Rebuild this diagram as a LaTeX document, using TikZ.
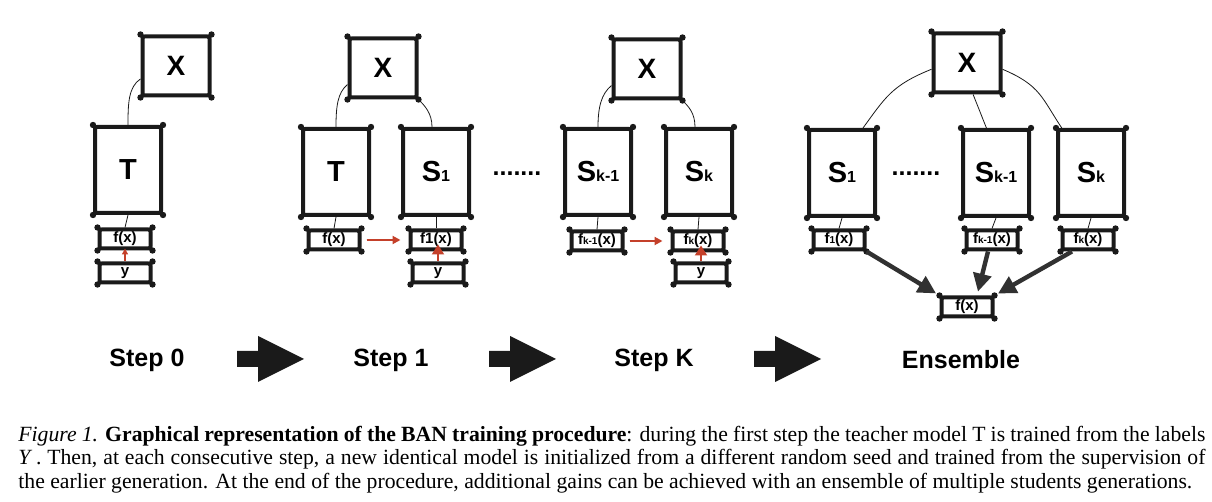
\documentclass[tikz,border=0pt]{standalone}
\usepackage{fontspec}
\setmainfont{Liberation Sans}
\newfontfamily\capfont{Liberation Serif}
\usepackage{xcolor}
\usetikzlibrary{arrows.meta}
\definecolor{redarrow}{HTML}{C4402A}
\definecolor{ink}{HTML}{1A1A1A}
\newcommand{\modidx}[1]{{\fontsize{8}{8}\selectfont #1}}
\newcommand{\outidx}[1]{{\fontsize{5}{5}\selectfont #1}}

\begin{document}
\begin{tikzpicture}[x=0.5pt, y=-0.5pt, every node/.style={font=\bfseries},
  sketch/.style={draw=ink, line width=2pt, rounded corners=1pt, line join=round, inner sep=0pt},
  input/.style={sketch, minimum width=33.5pt, minimum height=29.5pt, font=\fontsize{14}{14}\selectfont\bfseries},
  model/.style={sketch, minimum width=33pt, minimum height=43pt, font=\fontsize{14.5}{14.5}\selectfont\bfseries},
  output/.style={sketch, minimum width=25.5pt, minimum height=9.5pt, font=\fontsize{7.5}{8}\selectfont\bfseries},
  steplabel/.style={font=\fontsize{12.5}{12.5}\selectfont\bfseries},
  wire/.style={thin, draw=ink},
  redarr/.style={-{Triangle[length=4pt,width=4pt]}, line width=1pt, draw=redarrow, fill=redarrow},
  vote/.style={-{Triangle[length=9pt,width=9pt]}, line width=2.2pt, draw=ink!90, shorten >=2pt}]
\useasboundingbox (0,0) rectangle (1212,502);
% step 0
\node[input] (x0) at (176,66) {X};
\node[model] (t0) at (128,170) {T};
\node[output] (f0) at (125,239) {f(x)};
\node[output] (y0) at (125,273) {y};
% step 1
\node[input] (x1) at (383,68) {X};
\node[model] (t1) at (336,172) {T};
\node[model] (s1) at (436,172) {S\modidx{1}};
\node[output] (ft1) at (334,240) {f(x)};
\node[output] (f1) at (436,240) {f1(x)};
\node[output] (y1) at (438,273) {y};
\node[steplabel] (dots1) at (517,174) {.......};
% step K
\node[input] (xk) at (647,69) {X};
\node[model] (sk1) at (598,172) {S\modidx{k-1}};
\node[model] (sk) at (699,172) {S\modidx{k}};
\node[output] (fk1) at (597,241) {f\outidx{k-1}(x)};
\node[output] (fk) at (698,241) {f\outidx{k}(x)};
\node[output] (yk) at (701,273) {y};
% ensemble
\node[input] (xe) at (967,63) {X};
\node[model] (s1e) at (842,173) {S\modidx{1}};
\node[model] (sk1e) at (996,173) {S\modidx{k-1}};
\node[model] (ske) at (1091,173) {S\modidx{k}};
\node[output] (f1e) at (839,240) {f\outidx{1}(x)};
\node[output] (fk1e) at (992,240) {f\outidx{k-1}(x)};
\node[output] (fke) at (1088,240) {f\outidx{k}(x)};
\node[output] (fe) at (967,307) {f(x)};
\node[steplabel] (dotse) at (916,174) {.......};
% sketchy corners
\foreach \n in {x0,t0,f0,y0,x1,t1,s1,ft1,f1,y1,xk,sk1,sk,fk1,fk,yk,xe,s1e,sk1e,ske,f1e,fk1e,fke,fe}
  \foreach \c in {north west,north east,south west,south east}
    \fill[ink] (\n.\c) circle (1.6pt);
% wires
\draw[wire] (x0.200) .. controls +(-12,8) and +(0,-22) .. (t0.north);
\draw[wire] (x1.205) .. controls +(-10,8) and +(0,-20) .. (t1.north);
\draw[wire] (x1.south east) .. controls +(6,6) and +(0,-14) .. ([xshift=-2pt]s1.north);
\draw[wire] (xk.205) .. controls +(-10,8) and +(0,-20) .. (sk1.north);
\draw[wire] (xk.south east) .. controls +(6,6) and +(0,-14) .. ([xshift=-2pt]sk.north);
\draw[wire] (xe.190) .. controls +(-40,16) and +(22,-30) .. (s1e.65);
\draw[wire] (xe.-10) .. controls +(38,16) and +(-20,-30) .. (ske.123);
\draw[wire] (xe.-79) -- (sk1e.102);
\draw[wire] (t0.south) -- (f0.north);
\draw[wire] (t1.south) -- (ft1.north);
\draw[wire] (s1.south) -- (f1.north);
\draw[wire] (sk1.south) -- (fk1.north);
\draw[wire] (sk.south) -- (fk.north);
\draw[wire] (s1e.south) -- (f1e.north);
\draw[wire] (sk1e.south) -- (fk1e.north);
\draw[wire] (ske.south) -- (fke.north);
% supervision
\draw[redarr, -{Triangle[length=3pt,width=3pt]}, shorten >=-1pt] (y0.north) -- (f0.south);
\draw[redarr, shorten <=2.5pt, shorten >=4pt] (ft1.east) -- (f1.west);
\draw[redarr, -{Triangle[length=5pt,width=6pt]}, shorten >=-3.5pt] (y1.north) -- (y1.north |- f1.south);
\draw[redarr, shorten <=2.5pt, shorten >=4pt] (fk1.east) -- (fk.west);
\draw[redarr, -{Triangle[length=5pt,width=6pt]}, shorten >=-3.5pt] (yk.north) -- (yk.north |- fk.south);
% ensemble votes
\draw[vote] (f1e.south east) -- (fe.north west);
\draw[vote] ([xshift=-2pt]fk1e.south) -- ([xshift=5pt]fe.north);
\draw[vote] ([xshift=-8pt]fke.south) -- (fe.north east);
% step labels
\node[steplabel] (lab0) at (147,360) {Step 0};
\node[steplabel] (lab1) at (391,360) {Step 1};
\node[steplabel] (labk) at (654,360) {Step K};
\node[steplabel] (labe) at (961,360) {Ensemble};
\foreach \x in {270,522,787}
  \fill[ink, shift={(\x,359)}] (-33,-8) -- (-12,-8) -- (-12,-23) -- (34,0) -- (-12,23) -- (-12,8) -- (-33,8) -- cycle;
% caption
\node[anchor=north west, inner sep=0pt, text width=593.5pt, align=justify,
  font=\capfont\fontsize{10.85}{11.6}\selectfont] (caption) at (18,426)
  {\textit{Figure 1.} \textbf{Graphical representation of the BAN training procedure}: during the first step the teacher model T is trained from the labels\linebreak
  \textit{Y\/}\,. Then, at each consecutive step, a new identical model is initialized from a different random seed and trained from the supervision of\linebreak
  the earlier generation. At the end of the procedure, additional gains can be achieved with an ensemble of multiple students generations.};
\end{tikzpicture}
\end{document}
